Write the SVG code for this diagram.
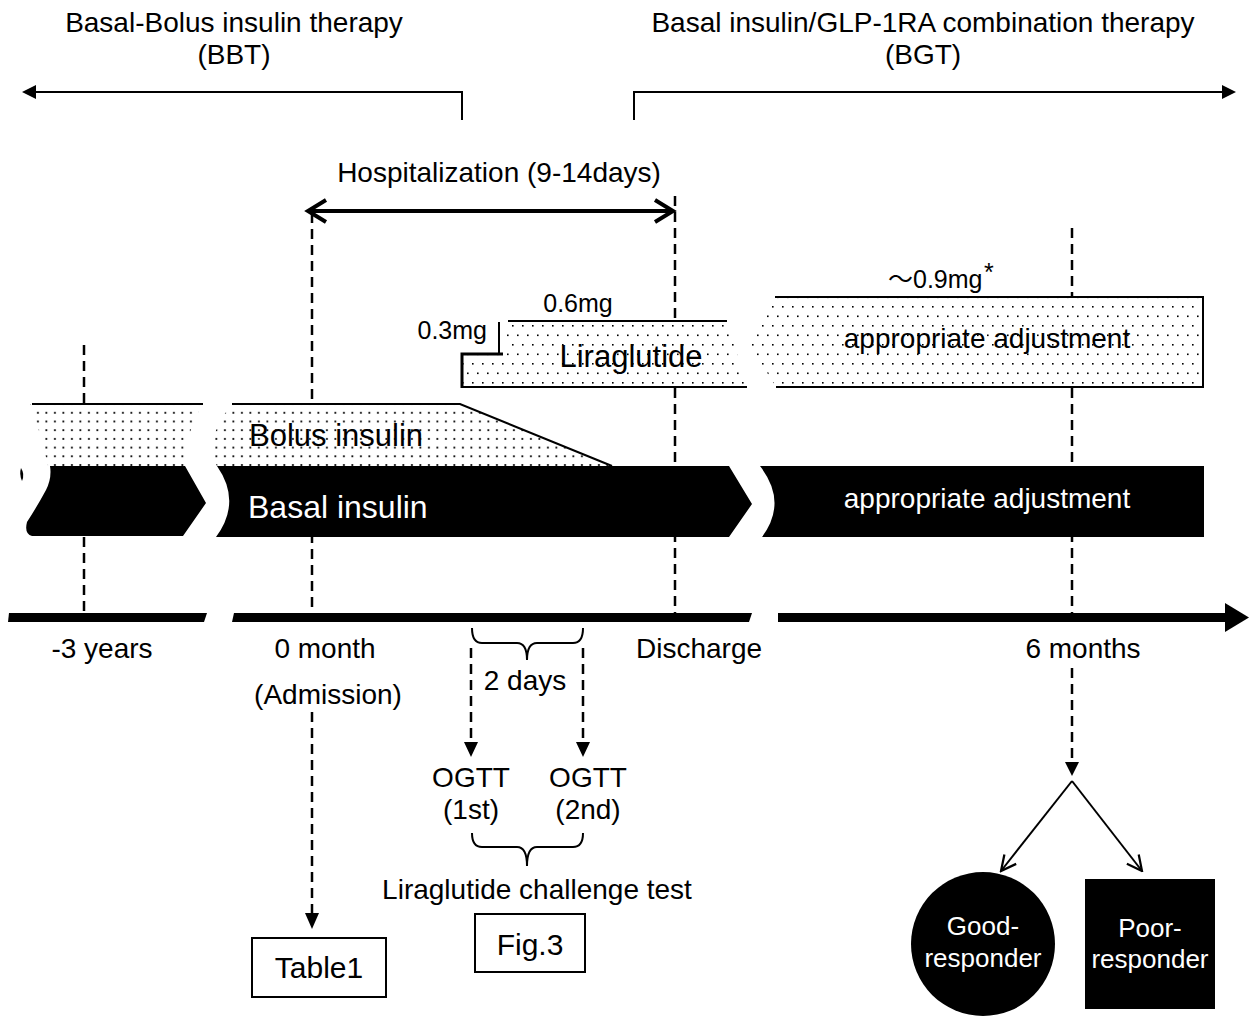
<svg xmlns="http://www.w3.org/2000/svg" width="1249" height="1016" viewBox="0 0 1249 1016">
<style>
text{font-family:"Liberation Sans",Arial,sans-serif;fill:#000}
.t28{font-size:28px}
.c{text-anchor:middle}
.w{fill:#fff}
.ln{stroke:#000;stroke-width:2;fill:none}
.dash{stroke:#000;stroke-width:2.5;stroke-dasharray:10 6;fill:none}
.blk{fill:#000}
</style>
<defs>
<pattern id="dotsA" width="8.5" height="8.7" patternUnits="userSpaceOnUse">
<rect width="8.5" height="8.7" fill="#fff"/>
<rect x="3" y="3" width="1.8" height="1.8" fill="#000"/>
</pattern>
<pattern id="dotsB" width="20" height="19" patternUnits="userSpaceOnUse">
<rect width="20" height="19" fill="#fff"/>
<rect x="2" y="2" width="1.6" height="1.6" fill="#000"/>
<rect x="12" y="2" width="1.6" height="1.6" fill="#000"/>
<rect x="7" y="11.5" width="1.6" height="1.6" fill="#000"/>
<rect x="17" y="11.5" width="1.6" height="1.6" fill="#000"/>
</pattern>
<marker id="open" viewBox="0 0 12 12" refX="11" refY="6" markerWidth="18" markerHeight="18" markerUnits="userSpaceOnUse" orient="auto">
<path d="M1,1 L11,6 L1,11" fill="none" stroke="#000" stroke-width="1.5"/>
</marker>
</defs>

<g id="headers">
<text class="t28 c" x="234" y="32">Basal-Bolus insulin therapy</text>
<text class="t28 c" x="234" y="64">(BBT)</text>
<text class="t28 c" x="923" y="32">Basal insulin/GLP-1RA combination therapy</text>
<text class="t28 c" x="923" y="64">(BGT)</text>
<text class="t28 c" x="499" y="182">Hospitalization (9-14days)</text>
</g>

<g id="connectors">
<polyline class="ln" points="462,120 462,92 34,92"/>
<polygon class="blk" points="22,92 36,85 36,99"/>
<polyline class="ln" points="634,120 634,92 1223,92"/>
<polygon class="blk" points="1236,92 1222,85 1222,99"/>
<line x1="309" y1="211" x2="672" y2="211" stroke="#000" stroke-width="4"/>
<polyline points="326,200 308,211 326,222" fill="none" stroke="#000" stroke-width="4"/>
<polyline points="655,200 673,211 655,222" fill="none" stroke="#000" stroke-width="4"/>
<line class="dash" x1="84" y1="345" x2="84" y2="613"/>
<line class="dash" x1="312" y1="213" x2="312" y2="613"/>
<line class="dash" x1="675" y1="196" x2="675" y2="613"/>
<line class="dash" x1="1072" y1="228" x2="1072" y2="613"/>
<line class="dash" x1="312" y1="712" x2="312" y2="914"/>
<polygon class="blk" points="305,913 319,913 312,929"/>
<line class="dash" x1="471" y1="648" x2="471" y2="743"/>
<polygon class="blk" points="464,742 478,742 471,757"/>
<line class="dash" x1="583" y1="648" x2="583" y2="743"/>
<polygon class="blk" points="576,742 590,742 583,757"/>
<line class="dash" x1="1072" y1="668" x2="1072" y2="762"/>
<polygon class="blk" points="1065,762 1079,762 1072,776"/>
<path class="ln" stroke-width="2.5" d="M472,628 Q472,643 482,643 L517,643 Q527,643 527,660 Q527,643 537,643 L573,643 Q583,643 583,628"/>
<path class="ln" stroke-width="2.5" d="M472,833 Q472,847 482,847 L517,847 Q527,847 527,866 Q527,847 537,847 L573,847 Q583,847 583,833"/>
<line class="ln" x1="1072" y1="781" x2="1001" y2="871" marker-end="url(#open)"/>
<line class="ln" x1="1072" y1="781" x2="1142" y2="871" marker-end="url(#open)"/>
</g>

<g id="liraglutide">
<path d="M462,354 L505,354 L505,321 L727,321 L747,387 L462,387 Z" fill="url(#dotsB)"/>
<line class="ln" x1="462" y1="387" x2="747" y2="387"/>
<polyline points="462,388 462,354 503,354" fill="none" stroke="#000" stroke-width="3"/>
<line class="ln" x1="499" y1="322" x2="499" y2="353"/>
<line class="ln" x1="508" y1="321" x2="727" y2="321"/>
<text x="487" y="339" style="font-size:25px;text-anchor:end">0.3mg</text>
<text x="578" y="312" style="font-size:25px" class="c">0.6mg</text>
<text x="631" y="367" style="font-size:31px" class="c">Liraglutide</text>
</g>

<g id="liraglutide-bgt">
<path d="M775,297 L1203,297 L1203,387 L776,387 L748,342 Z" fill="url(#dotsB)"/>
<polyline class="ln" points="775,297 1203,297 1203,387 776,387"/>
<text x="888" y="288" style="font-size:25px;font-family:'Liberation Sans','Noto Sans CJK JP',sans-serif">～0.9mg</text>
<text x="984" y="281" style="font-size:25px">*</text>
<text class="t28 c" x="987" y="348">appropriate adjustment</text>
</g>

<g id="bolus">
<path d="M30,404 L203,404 Q186,430 185,466 L48,466 Q40,430 30,404 Z" fill="url(#dotsA)"/>
<line class="ln" x1="32" y1="404" x2="203" y2="404"/>
<path d="M232,404 L460,404 L612,466 L217,466 Q203,440 232,404 Z" fill="url(#dotsA)"/>
<polyline class="ln" points="232,404 460,404 612,466"/>
<text x="249" y="446" style="font-size:31px">Bolus insulin</text>
</g>

<g id="basal">
<path class="blk" d="M50,466 L185,466 L206,503 L183,536 L32,536 Q24,534 27,522 Q38,505 46,490 Q52,478 50,466 Z"/>
<path class="blk" d="M21,468 Q25,474 22,481 Q19,474 21,468 Z"/>
<path class="blk" d="M217,466 L729,466 L752,504 L729,537 L216,537 Q242,502 217,466 Z"/>
<path class="blk" d="M760,466 L1204,466 L1204,537 L762,537 Q788,502 760,466 Z"/>
<text x="248" y="518" style="font-size:32px" class="w">Basal insulin</text>
<text class="t28 c w" x="987" y="508">appropriate adjustment</text>
</g>

<g id="timeline">
<polygon class="blk" points="9,613 207,613 204,622 8,622"/>
<polygon class="blk" points="234,613 752,613 749,622 232,622"/>
<polygon class="blk" points="778,613 1226,613 1226,622 778,622"/>
<polygon class="blk" points="1225,603 1249,617.5 1225,632"/>
<text class="t28 c" x="102" y="658">-3 years</text>
<text class="t28 c" x="325" y="658">0 month</text>
<text class="t28 c" x="328" y="704">(Admission)</text>
<text class="t28 c" x="699" y="658">Discharge</text>
<text class="t28 c" x="1083" y="658">6 months</text>
</g>

<g id="challenge">
<text class="t28 c" x="525" y="690">2 days</text>
<text class="t28 c" x="471" y="787">OGTT</text>
<text class="t28 c" x="471" y="819">(1st)</text>
<text class="t28 c" x="588" y="787">OGTT</text>
<text class="t28 c" x="588" y="819">(2nd)</text>
<text class="t28 c" x="537" y="899">Liraglutide challenge test</text>
</g>

<g id="table1">
<rect x="252" y="938" width="134" height="59" fill="#fff" stroke="#000" stroke-width="2"/>
<text x="319" y="978" class="c" style="font-size:30px">Table1</text>
</g>

<g id="fig3">
<rect x="475" y="914" width="110" height="58" fill="#fff" stroke="#000" stroke-width="2"/>
<text x="530" y="955" class="c" style="font-size:30px">Fig.3</text>
</g>

<g id="good-responder">
<circle cx="983" cy="944" r="72" fill="#000"/>
<text x="983" y="935" class="c w" style="font-size:26px">Good-</text>
<text x="983" y="967" class="c w" style="font-size:26px">responder</text>
</g>

<g id="poor-responder">
<rect x="1085" y="879" width="130" height="130" fill="#000"/>
<text x="1150" y="937" class="c w" style="font-size:26px">Poor-</text>
<text x="1150" y="968" class="c w" style="font-size:26px">responder</text>
</g>
</svg>
